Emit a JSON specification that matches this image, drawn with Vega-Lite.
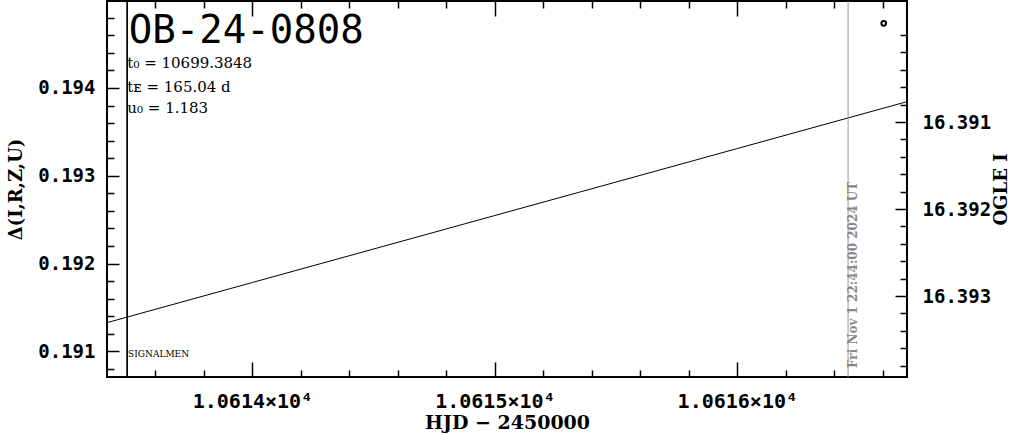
{
  "$schema": "https://vega.github.io/schema/vega-lite/v6.json",
  "width": 800,
  "height": 376,
  "autosize": {"type": "none"},
  "padding": {"left": 107, "top": 1, "right": 104, "bottom": 57},
  "background": "white",
  "config": {
    "view": {"stroke": "black", "strokeWidth": 2},
    "axis": {
      "domain": false, "grid": false, "tickColor": "black", "tickWidth": 1.5,
      "labelFont": "DejaVu Sans Mono", "labelFontWeight": "bold", "labelFontSize": 19, "labelColor": "black",
      "titleFont": "DejaVu Serif", "titleFontWeight": "bold", "titleFontSize": 18, "titleColor": "black"
    }
  },
  "datasets": {
    "model": [
      {"hjd": 10613.4, "d": 0.191326},
      {"hjd": 10614.0, "d": 0.191784},
      {"hjd": 10615.0, "d": 0.192547},
      {"hjd": 10616.0, "d": 0.193310},
      {"hjd": 10616.7, "d": 0.193844}
    ],
    "ogle": [{"hjd": 10616.604, "mag": 16.389866}],
    "signalmen": [{"hjd": 10613.483, "d": 0.190964, "label": "SIGNALMEN"}],
    "now": [{"hjd": 10616.457, "mag": 16.39385, "label": "Fri Nov  1 22:44:00 2024 UT"}],
    "params": [
      {"hjd": 10613.49, "d": 0.194513, "label": "OB-24-0808", "kind": "name"},
      {"hjd": 10613.484, "d": 0.194285, "label": "t₀ = 10699.3848", "kind": "p"},
      {"hjd": 10613.484, "d": 0.194011, "label": "tᴇ = 165.04 d", "kind": "p"},
      {"hjd": 10613.484, "d": 0.193772, "label": "u₀ = 1.183", "kind": "p"}
    ]
  },
  "resolve": {"scale": {"y": "independent"}, "axis": {"x": "independent", "y": "independent"}},
  "layer": [
    {
      "data": {"name": "model"},
      "mark": {"type": "line", "color": "black", "strokeWidth": 1},
      "encoding": {
        "x": {"field": "hjd", "type": "quantitative",
          "scale": {"domain": [10613.4, 10616.7], "nice": false, "zero": false},
          "axis": {"orient": "bottom", "values": [10614, 10615, 10616], "tickSize": -15, "labelPadding": 29, "labelFontSize": 20,
            "labelExpr": "format(datum.value/10000, '.4f') + '×10⁴'", "title": "HJD − 2450000", "titleFontSize": 19, "titlePadding": 2}},
        "y": {"field": "d", "type": "quantitative",
          "scale": {"domain": [0.190707, 0.194991], "nice": false, "zero": false},
          "axis": {"orient": "left", "values": [0.191, 0.192, 0.193, 0.194], "tickSize": -12, "labelPadding": 24,
            "format": ".3f", "title": "Δ(I,R,Z,U)", "titlePadding": 12}}
      }
    },
    {
      "data": {"name": "signalmen"},
      "mark": {"type": "rule", "color": "black", "strokeWidth": 1.7},
      "encoding": {
        "x": {"field": "hjd", "type": "quantitative",
          "axis": {"orient": "bottom", "values": [10613.6, 10613.8, 10614.2, 10614.4, 10614.6, 10614.8, 10615.2, 10615.4, 10615.6, 10615.8, 10616.2, 10616.4, 10616.6],
            "tickSize": -7, "labels": false, "title": null}}
      }
    },
    {
      "data": {"name": "now"},
      "mark": {"type": "rule", "color": "#999999", "strokeWidth": 1},
      "encoding": {
        "x": {"field": "hjd", "type": "quantitative",
          "axis": {"orient": "top", "values": [10614, 10615, 10616], "tickSize": -15, "labels": false, "title": null}}
      }
    },
    {
      "data": {"name": "signalmen"},
      "mark": {"type": "text", "font": "DejaVu Serif", "fontSize": 9, "align": "left", "baseline": "middle", "dx": 1, "color": "black"},
      "encoding": {
        "x": {"field": "hjd", "type": "quantitative",
          "axis": {"orient": "top", "values": [10613.6, 10613.8, 10614.2, 10614.4, 10614.6, 10614.8, 10615.2, 10615.4, 10615.6, 10615.8, 10616.2, 10616.4, 10616.6],
            "tickSize": -7, "labels": false, "title": null}},
        "y": {"field": "d", "type": "quantitative",
          "scale": {"domain": [0.190707, 0.194991], "nice": false, "zero": false},
          "axis": {"orient": "left", "values": [0.1908, 0.1912, 0.1914, 0.1916, 0.1918, 0.1922, 0.1924, 0.1926, 0.1928, 0.1932, 0.1934, 0.1936, 0.1938, 0.1942, 0.1944, 0.1946, 0.1948],
            "tickSize": -7, "labels": false, "title": null}},
        "text": {"field": "label"}
      }
    },
    {
      "data": {"name": "ogle"},
      "mark": {"type": "point", "shape": "circle", "filled": false, "color": "black", "opacity": 1, "size": 22, "strokeWidth": 2},
      "encoding": {
        "x": {"field": "hjd", "type": "quantitative", "axis": null},
        "y": {"field": "mag", "type": "quantitative",
          "scale": {"domain": [16.389609, 16.393931], "reverse": true, "nice": false, "zero": false},
          "axis": {"orient": "right", "values": [16.391, 16.392, 16.393], "tickSize": -12, "labelPadding": 27,
            "format": ".3f", "title": "OGLE I", "titleAngle": 270, "titlePadding": 20}}
      }
    },
    {
      "data": {"name": "now"},
      "mark": {"type": "text", "font": "DejaVu Serif", "fontWeight": "bold", "fontSize": 12, "angle": 270, "align": "left", "baseline": "top", "dx": 2, "color": "#888888"},
      "encoding": {
        "x": {"field": "hjd", "type": "quantitative", "axis": null},
        "y": {"field": "mag", "type": "quantitative",
          "scale": {"domain": [16.389609, 16.393931], "reverse": true, "nice": false, "zero": false},
          "axis": {"orient": "right", "values": [16.39, 16.3902, 16.3904, 16.3906, 16.3908, 16.3912, 16.3914, 16.3916, 16.3918, 16.3922, 16.3924, 16.3926, 16.3928, 16.3932, 16.3934, 16.3936, 16.3938],
            "tickSize": -7, "labels": false, "title": null}},
        "text": {"field": "label"}
      }
    },
    {
      "data": {"name": "params"},
      "transform": [{"filter": "datum.kind == 'name'"}],
      "mark": {"type": "text", "font": "DejaVu Sans Mono", "fontSize": 39, "align": "left", "baseline": "alphabetic", "color": "black"},
      "encoding": {
        "x": {"field": "hjd", "type": "quantitative", "axis": null},
        "y": {"field": "d", "type": "quantitative", "scale": {"domain": [0.190707, 0.194991], "nice": false, "zero": false}, "axis": null},
        "text": {"field": "label"}
      }
    },
    {
      "data": {"name": "params"},
      "transform": [{"filter": "datum.kind == 'p'"}],
      "mark": {"type": "text", "font": "DejaVu Serif", "fontSize": 15, "align": "left", "baseline": "middle", "color": "black"},
      "encoding": {
        "x": {"field": "hjd", "type": "quantitative", "axis": null},
        "y": {"field": "d", "type": "quantitative", "scale": {"domain": [0.190707, 0.194991], "nice": false, "zero": false}, "axis": null},
        "text": {"field": "label"}
      }
    }
  ]
}
